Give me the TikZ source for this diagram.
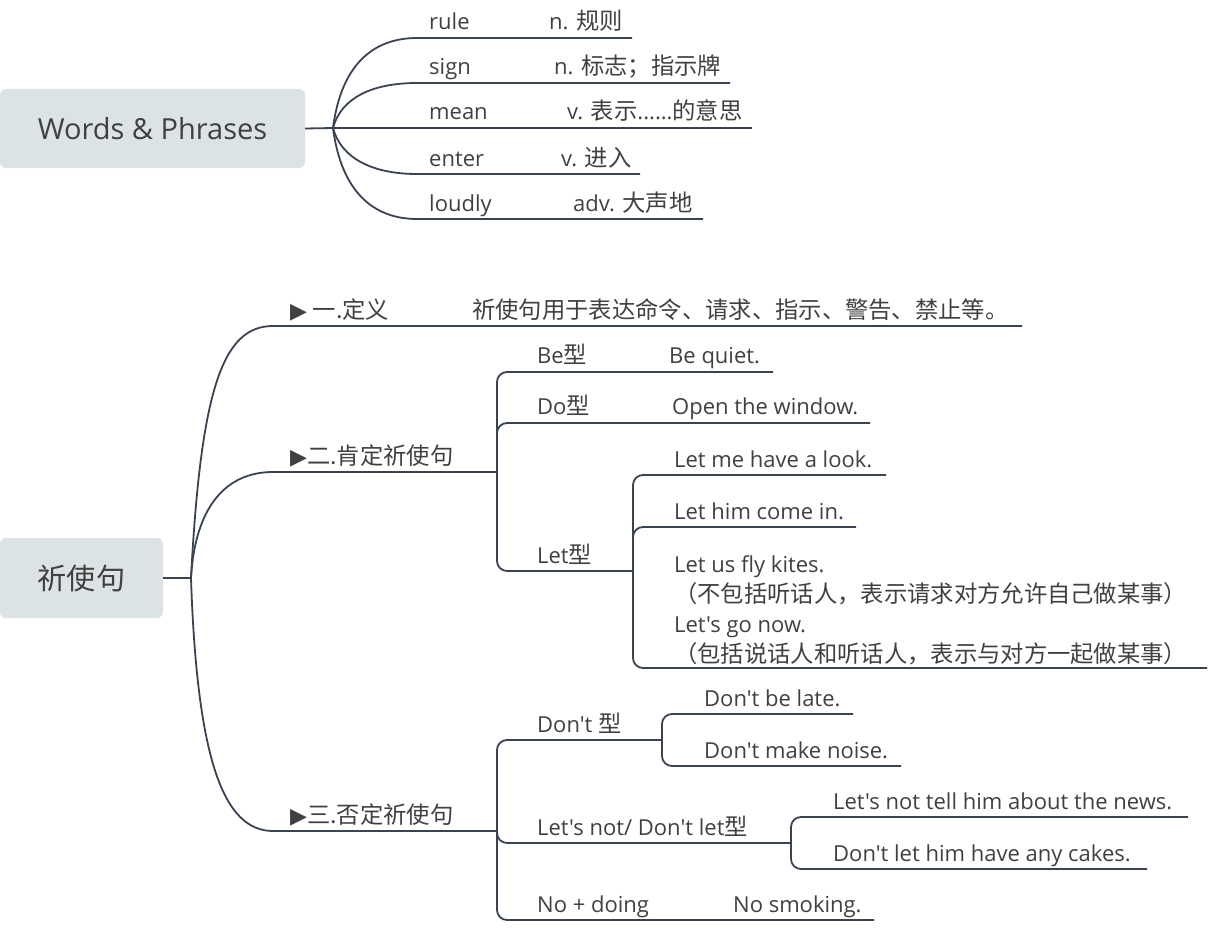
\documentclass[tikz,border=0pt]{standalone}
\usepackage{fontspec}
\usepackage{xcolor}
\setmainfont{Open Sans}[Ligatures=TeXOff]
\newfontfamily\cjk{Noto Sans CJK SC}[Scale=1.06]
\newfontfamily\symf{DejaVu Sans}
\usetikzlibrary{calc, positioning}

\definecolor{linec}{HTML}{3C4350}
\definecolor{textc}{HTML}{404040}
\definecolor{rootc}{HTML}{DCE3E5}

\tikzset{
    conn/.style={draw=linec, line width=1.8pt},
    elbow/.style={conn, rounded corners=10pt},
    leaf/.style={anchor=base west, inner sep=0pt, text=textc,
            font=\fontsize{22}{30}\selectfont},
    rootbox/.style={fill=rootc, rounded corners=6pt, text=textc, inner sep=0pt}
}

\begin{document}
\begin{tikzpicture}[x=1pt, y=-1pt]
    \useasboundingbox (0,0) rectangle (1227,934);

    % Words & Phrases
    \node[rootbox, minimum width=305pt, minimum height=79pt,
        font=\fontsize{29}{34}\selectfont] (wp) at (152.5,128.5) {Words \& Phrases};
    \coordinate (wp-b) at (333,128);
    \draw[conn] (wp.east) -- (wp-b);

    \coordinate (rule-s) at (417,38);   \coordinate (rule-e) at (632,38);
    \coordinate (sign-s) at (417,83);   \coordinate (sign-e) at (730,83);
    \coordinate (mean-e) at (752,128);
    \coordinate (enter-s) at (417,174); \coordinate (enter-e) at (640,174);
    \coordinate (loud-s) at (417,219);  \coordinate (loud-e) at (703,219);

    \draw[conn] (wp-b) .. controls +(8,-62) and +(-45,0) .. (rule-s) -- (rule-e);
    \draw[conn] (wp-b) .. controls +(8,-30) and +(-45,0) .. (sign-s) -- (sign-e);
    \draw[conn] (wp-b) -- (mean-e);
    \draw[conn] (wp-b) .. controls +(8,30) and +(-45,0) .. (enter-s) -- (enter-e);
    \draw[conn] (wp-b) .. controls +(8,62) and +(-45,0) .. (loud-s) -- (loud-e);

    \node[leaf] (rule) at (429,30) {rule};
    \node[leaf] (rule-m) at (549,30) {n. {\cjk 规则}};
    \node[leaf] (sign) at (429,75) {sign};
    \node[leaf] (sign-m) at (554,75) {n. {\cjk 标志；指示牌}};
    \node[leaf] (mean) at (429,120) {mean};
    \node[leaf] (mean-m) at (567,120) {v. {\cjk 表示}......{\cjk 的意思}};
    \node[leaf] (enter) at (429,166) {enter};
    \node[leaf] (enter-m) at (561,166) {v. {\cjk 进入}};
    \node[leaf] (loud) at (429,211) {loudly};
    \node[leaf] (loud-m) at (573,211) {adv. {\cjk 大声地}};

    % 祈使句
    \node[rootbox, minimum width=163pt, minimum height=80pt,
        font=\fontsize{27.5}{34}\selectfont\cjk] (qs) at (81.5,578) {祈使句};
    \coordinate (qs-b) at (191,578);
    \draw[conn] (qs.east) -- (qs-b);

    \coordinate (def-s) at (273,326); \coordinate (def-e) at (1022,326);
    \coordinate (pos-s) at (273,472); \coordinate (pos-b) at (497,472);
    \coordinate (neg-s) at (273,831); \coordinate (neg-b) at (497,831);

    \draw[conn] (qs-b) .. controls +(10,-190) and +(-50,0) .. (def-s) -- (def-e);
    \draw[conn] (qs-b) .. controls +(4,-70) and +(-48,0) .. (pos-s) -- (pos-b);
    \draw[conn] (qs-b) .. controls +(6,180) and +(-50,0) .. (neg-s) -- (neg-b);

    \node[leaf] (def) at (290,318) {{\symf ▶} {\cjk 一.定义}};
    \node[leaf] (def-m) at (472,318) {\cjk 祈使句用于表达命令、请求、指示、警告、禁止等。};
    \node[leaf] (pos) at (290,464) {{\symf ▶}{\cjk 二.肯定祈使句}};
    \node[leaf] (neg) at (290,823) {{\symf ▶}{\cjk 三.否定祈使句}};

    % 二.肯定祈使句
    \coordinate (be-e) at (773,372);
    \coordinate (do-e) at (870,423);
    \coordinate (let-b) at (633,571);
    \draw[elbow] (pos-b) |- (be-e);
    \draw[elbow] (pos-b) |- (do-e);
    \draw[elbow] (pos-b) |- (let-b);

    \node[leaf] (be) at (537,363) {Be{\cjk 型}};
    \node[leaf] (be-m) at (669,363) {Be quiet.};
    \node[leaf] (do) at (537,414) {Do{\cjk 型}};
    \node[leaf] (do-m) at (672,414) {Open the window.};
    \node[leaf] (let) at (537,563) {Let{\cjk 型}};

    \coordinate (look-e) at (886,475);
    \coordinate (him-e) at (856,527);
    \coordinate (kites-e) at (1207,668);
    \draw[elbow] (let-b) |- (look-e);
    \draw[elbow] (let-b) |- (him-e);
    \draw[elbow] (let-b) |- (kites-e);

    \node[leaf] (look) at (674,467) {Let me have a look.};
    \node[leaf] (him) at (674,519) {Let him come in.};
    \node[leaf, align=left, anchor=south west] (kites) at (674,665)
        {Let us fly kites.\\{\cjk （不包括听话人，表示请求对方允许自己做某事）}\\
         Let's go now.\\{\cjk （包括说话人和听话人，表示与对方一起做某事）}};

    % 三.否定祈使句
    \coordinate (dont-b) at (662,740);
    \coordinate (letsnot-b) at (791,843);
    \coordinate (nodo-e) at (874,920);
    \draw[elbow] (neg-b) |- (dont-b);
    \draw[elbow] (neg-b) |- (letsnot-b);
    \draw[elbow] (neg-b) |- (nodo-e);

    \node[leaf] (dont) at (537,732) {Don't {\cjk 型}};
    \node[leaf] (letsnot) at (537,835) {Let's not/ Don't let{\cjk 型}};
    \node[leaf] (nodo) at (537,912) {No + doing};
    \node[leaf] (nodo-m) at (733,912) {No smoking.};

    \coordinate (late-e) at (853,714);
    \coordinate (noise-e) at (901,766);
    \draw[elbow] (dont-b) |- (late-e);
    \draw[elbow] (dont-b) |- (noise-e);
    \node[leaf] (late) at (704,706) {Don't be late.};
    \node[leaf] (noise) at (704,758) {Don't make noise.};

    \coordinate (tell-e) at (1188,817);
    \coordinate (cakes-e) at (1147,869);
    \draw[elbow] (letsnot-b) |- (tell-e);
    \draw[elbow] (letsnot-b) |- (cakes-e);
    \node[leaf] (tell) at (833,809) {Let's not tell him about the news.};
    \node[leaf] (cakes) at (833,861) {Don't let him have any cakes.};
\end{tikzpicture}
\end{document}
